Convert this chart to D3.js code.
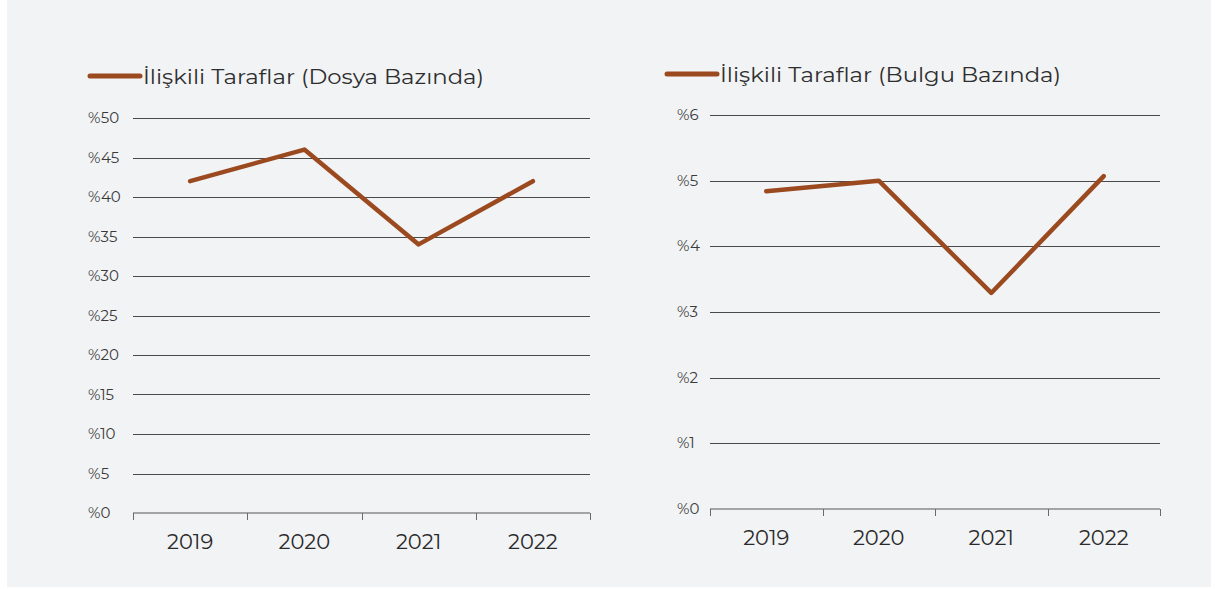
<!DOCTYPE html>
<html>
<head>
<meta charset="utf-8">
<script src="https://cdn.jsdelivr.net/npm/d3@7"></script>
<style>
  body { margin: 0; background: #fff; }
  svg { display: block; font-family: "Montserrat", "Noto Sans", sans-serif; }
  .grid line { stroke: #4a4a4a; stroke-width: 1; shape-rendering: crispEdges; }
  .ytick { fill: #3a3a3a; font-size: 15px; }
  .xtick { fill: #2a2a2a; font-size: 21px; }
  .legend-text { fill: #2e2e2e; font-size: 20px; }
</style>
</head>
<body>
<svg id="chart" width="1217" height="589"></svg>
<script>
const years = ['2019', '2020', '2021', '2022'];
const dosyaValues = [42, 46, 34, 42];
const bulguValues = [4.84, 5.0, 3.29, 5.07];
const dosyaTicks = [0, 5, 10, 15, 20, 25, 30, 35, 40, 45, 50];
const bulguTicks = [0, 1, 2, 3, 4, 5, 6];
const dosyaTitle = 'İlişkili Taraflar (Dosya Bazında)';
const bulguTitle = 'İlişkili Taraflar (Bulgu Bazında)';

const lineColor = '#9b4a20';
const svg = d3.select('#chart');

svg.append('rect')
  .attr('x', 7).attr('y', 0)
  .attr('width', 1204).attr('height', 587)
  .attr('fill', '#f2f3f5');

// one panel per series
function drawPanel(opts) {
  const g = svg.append('g');

  const x = d3.scaleBand()
    .domain(years)
    .range([opts.left, opts.right]);

  const y = d3.scaleLinear()
    .domain([0, opts.max])
    .range([opts.bottom, opts.top]);

  // gridlines
  const grid = g.append('g').attr('class', 'grid');
  grid.selectAll('line')
    .data(opts.ticks.filter(d => d > 0))
    .enter()
    .append('line')
    .attr('x1', opts.left)
    .attr('x2', opts.right)
    .attr('y1', d => Math.round(y(d)) + 0.5)
    .attr('y2', d => Math.round(y(d)) + 0.5);

  // y labels, left aligned like the original
  g.selectAll('.ytick')
    .data(opts.ticks)
    .enter()
    .append('text')
    .attr('class', 'ytick')
    .attr('x', opts.labelX)
    .attr('y', d => y(d) + 5)
    .text(d => `%${d}`);

  // x axis
  const xAxis = g.append('g')
    .attr('transform', `translate(0,${opts.bottom})`);
  xAxis.append('line')
    .attr('x1', opts.left).attr('x2', opts.right)
    .attr('stroke', '#8a8a8a').attr('stroke-width', 1.5);
  const edges = years.map(d => x(d)).concat([opts.right]);
  xAxis.selectAll('.tick-mark')
    .data(edges)
    .enter()
    .append('line')
    .attr('x1', d => Math.round(d) + 0.5)
    .attr('x2', d => Math.round(d) + 0.5)
    .attr('y1', 0).attr('y2', 7)
    .attr('stroke', '#6a6a6a').attr('stroke-width', 1);

  g.selectAll('.xtick')
    .data(years)
    .enter()
    .append('text')
    .attr('class', 'xtick')
    .attr('x', d => x(d) + x.bandwidth() / 2)
    .attr('y', opts.bottom + 36)
    .attr('text-anchor', 'middle')
    .text(d => d);

  // series line
  const line = d3.line()
    .x((d, i) => x(years[i]) + x.bandwidth() / 2)
    .y(d => y(d));

  g.append('path')
    .datum(opts.values)
    .attr('d', line)
    .attr('fill', 'none')
    .attr('stroke', lineColor)
    .attr('stroke-width', 4.5)
    .attr('stroke-linecap', 'round')
    .attr('stroke-linejoin', 'round');

  // legend
  g.append('line')
    .attr('x1', opts.legendX).attr('x2', opts.legendX + 50)
    .attr('y1', opts.legendY).attr('y2', opts.legendY)
    .attr('stroke', lineColor)
    .attr('stroke-width', 5)
    .attr('stroke-linecap', 'round');
  g.append('text')
    .attr('class', 'legend-text')
    .attr('x', opts.legendX + 53)
    .attr('y', opts.legendY + 8)
    .attr('textLength', 341)
    .attr('lengthAdjust', 'spacingAndGlyphs')
    .text(opts.title);
}

drawPanel({
  left: 133, right: 590, top: 118, bottom: 513, labelX: 88,
  max: 50, ticks: dosyaTicks, values: dosyaValues,
  legendX: 90, legendY: 76, title: dosyaTitle
});

drawPanel({
  left: 710, right: 1160, top: 115, bottom: 509, labelX: 677,
  max: 6, ticks: bulguTicks, values: bulguValues,
  legendX: 667, legendY: 74, title: bulguTitle
});
</script>
</body>
</html>
